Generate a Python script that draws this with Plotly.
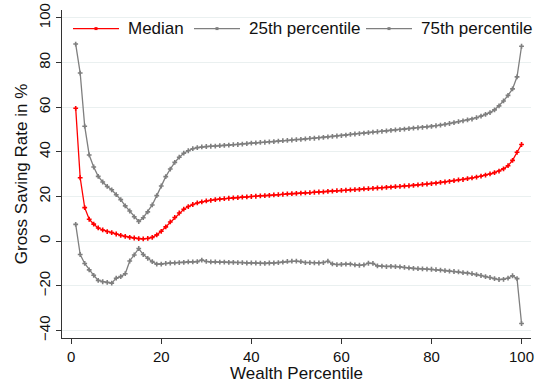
import plotly.graph_objects as go

# Wealth percentiles 1..100
percentile = list(range(1, 101))

# Gross saving rate (%) by wealth percentile
median = [
    59.5, 28.4, 15.0, 9.8, 7.6, 5.9, 5.0, 4.3, 3.8, 3.2,
    2.6, 2.1, 1.7, 1.4, 1.1, 1.0, 1.2, 1.7, 2.8, 4.4,
    6.4, 8.6, 10.6, 12.6, 14.3, 15.5, 16.4, 17.1, 17.6, 18.0,
    18.3, 18.6, 18.8, 19.0, 19.2, 19.4, 19.5, 19.7, 19.8, 20.0,
    20.1, 20.3, 20.4, 20.5, 20.7, 20.8, 21.0, 21.2, 21.3, 21.4,
    21.5, 21.6, 21.7, 21.9, 22.0, 22.1, 22.3, 22.4, 22.6, 22.7,
    22.8, 23.0, 23.1, 23.2, 23.4, 23.5, 23.6, 23.8, 23.9, 24.1,
    24.2, 24.4, 24.5, 24.7, 24.8, 25.0, 25.2, 25.4, 25.6, 25.8,
    26.0, 26.3, 26.5, 26.8, 27.1, 27.4, 27.6, 28.0, 28.3, 28.7,
    29.1, 29.6, 30.1, 30.7, 31.4, 32.4, 33.8, 36.2, 39.8, 43.3,
]

p25 = [
    7.5, -6.0, -10.0, -12.9, -15.3, -17.6, -18.2, -18.5, -18.8, -16.6,
    -15.9, -14.6, -8.9, -6.2, -3.3, -6.0, -7.7, -9.2, -10.3, -10.3,
    -10.0, -9.8, -9.7, -9.6, -9.5, -9.3, -9.3, -9.2, -8.5, -9.1,
    -9.3, -9.3, -9.4, -9.4, -9.5, -9.5, -9.6, -9.6, -9.8, -9.7,
    -9.8, -9.9, -10.0, -9.8, -9.8, -9.6, -9.4, -9.1, -9.0, -9.0,
    -9.2, -9.6, -9.6, -9.7, -9.8, -9.6, -9.0, -10.2, -10.5, -10.4,
    -10.3, -10.3, -10.6, -10.8, -10.6, -9.9, -10.0, -11.1, -11.2, -11.4,
    -11.3, -11.4, -11.5, -11.8, -12.0, -12.2, -12.3, -12.4, -12.5, -12.6,
    -12.8, -13.0, -13.2, -13.4, -13.6, -13.8, -14.1, -14.3, -14.6, -15.0,
    -15.4, -15.9, -16.3, -16.8, -17.2, -17.1, -16.6, -15.5, -16.8, -36.9,
]

p75 = [
    88.3, 75.3, 51.5, 38.6, 33.2, 29.0, 26.5, 24.5, 23.0, 20.8,
    18.6, 15.8, 13.5, 10.9, 8.8, 10.5, 13.1, 16.2, 20.4, 24.7,
    28.9, 32.3, 35.3, 37.6, 39.4, 40.5, 41.4, 41.9, 42.2, 42.4,
    42.5, 42.6, 42.8, 42.9, 43.0, 43.2, 43.3, 43.5, 43.7, 43.9,
    44.0, 44.2, 44.3, 44.5, 44.6, 44.8, 45.0, 45.1, 45.3, 45.5,
    45.6, 45.8, 46.0, 46.1, 46.3, 46.5, 46.7, 46.9, 47.1, 47.3,
    47.5, 47.8, 48.0, 48.2, 48.4, 48.6, 48.8, 49.0, 49.2, 49.4,
    49.6, 49.8, 50.0, 50.2, 50.4, 50.6, 50.8, 51.0, 51.2, 51.4,
    51.7, 52.0, 52.3, 52.7, 53.1, 53.5, 53.9, 54.3, 54.7, 55.3,
    56.0, 56.8, 57.6, 58.8, 60.6, 62.8, 65.3, 68.2, 73.6, 87.3,
]

series_names = ["Median", "25th percentile", "75th percentile"]

x_ticks = [0, 20, 40, 60, 80, 100]
y_ticks = [-40, -20, 0, 20, 40, 60, 80, 100]

RED = "#ff0000"
GRAY = "#7f7f7f"
FONT = "Liberation Sans, Arial, Helvetica, sans-serif"

W, H = 539, 383
M = dict(l=62, r=8, t=3, b=45)
PW = W - M["l"] - M["r"]
PH = H - M["t"] - M["b"]


def px_to_paper_x(px):
    return (px - M["l"]) / PW


def px_to_paper_y(py):
    return (H - M["b"] - py) / PH


fig = go.Figure()
colors = [RED, GRAY, GRAY]
for name, ys, color in zip(series_names, [median, p25, p75], colors):
    fig.add_trace(go.Scatter(
        x=percentile, y=ys, name=name, mode="lines+markers",
        line=dict(color=color, width=1.3),
        marker=dict(symbol="cross", size=4, color=color, line=dict(width=0)),
        showlegend=False,
    ))

# Horizontal key across the top of the plot: line sample, marker, label
key_y = 22
key_starts = [73, 194, 366]
sample_len = 46
for name, color, x0 in zip(series_names, colors, key_starts):
    fig.add_shape(
        type="line", xref="paper", yref="paper",
        x0=px_to_paper_x(x0), x1=px_to_paper_x(x0 + sample_len),
        y0=px_to_paper_y(key_y), y1=px_to_paper_y(key_y),
        line=dict(color=color, width=1.3),
    )
    cx = x0 + sample_len / 2
    fig.add_shape(
        type="rect", xref="paper", yref="paper",
        x0=px_to_paper_x(cx - 1.5), x1=px_to_paper_x(cx + 1.5),
        y0=px_to_paper_y(key_y + 1.5), y1=px_to_paper_y(key_y - 1.5),
        line=dict(width=0), fillcolor=color,
    )
    fig.add_annotation(
        text=name, xref="paper", yref="paper",
        x=px_to_paper_x(x0 + sample_len + 7), y=px_to_paper_y(key_y),
        xanchor="left", yanchor="middle", showarrow=False,
        font=dict(size=17, color="#111111"),
    )

fig.update_layout(
    width=W, height=H,
    margin=M,
    paper_bgcolor="white", plot_bgcolor="white",
    font=dict(family=FONT, color="#111111", size=14),
    showlegend=False,
    xaxis=dict(
        range=[-2.04, 102.1], tickvals=x_ticks,
        showgrid=False, zeroline=False,
        showline=True, linecolor="#333333", linewidth=1,
        ticks="outside", ticklen=5, tickcolor="#333333",
        tickfont=dict(size=15),
        title=dict(text="Wealth Percentile", font=dict(size=17), standoff=2),
    ),
    yaxis=dict(
        range=[-43.4, 103.55], tickvals=y_ticks, tickangle=-90,
        ticklabeloverflow="allow",
        showgrid=True, gridcolor="#eaf0f0", gridwidth=1, zeroline=False,
        showline=True, linecolor="#333333", linewidth=1,
        ticks="outside", ticklen=5, tickcolor="#333333",
        tickfont=dict(size=15),
        title=dict(text="Gross Saving Rate in %", font=dict(size=17), standoff=4),
    ),
)

fig.write_html("out.html")
